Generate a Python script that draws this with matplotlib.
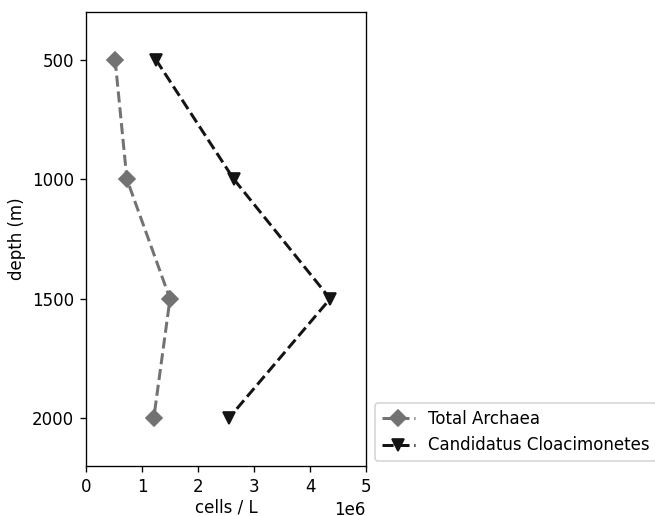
import numpy as np
import matplotlib.pyplot as plt

depth = [500, 1000, 1500, 2000]
total_archaea = [0.52e6, 0.73e6, 1.5e6, 1.21e6]
cloacimonetes = [1.25e6, 2.64e6, 4.36e6, 2.55e6]

dpi = 120
fig = plt.figure(figsize=(655 / dpi, 516 / dpi), dpi=dpi)
ax = fig.add_axes([86 / 655, 1 - 466 / 516, 280 / 655, 454 / 516])

ax.plot(total_archaea, depth, linestyle="--", marker="D", color="#727272",
        linewidth=1.8, markersize=6.5, label="Total Archaea")
ax.plot(cloacimonetes, depth, linestyle="--", marker="v", color="#141414",
        linewidth=1.8, markersize=7.5, label="Candidatus Cloacimonetes")

ax.set_xlim(0, 5e6)
ax.set_ylim(2200, 300)
ax.set_yticks([500, 1000, 1500, 2000])
ax.set_xlabel("cells / L", labelpad=2)
ax.set_ylabel("depth (m)")

ax.legend(loc="lower left", bbox_to_anchor=(1.032, 0.011), borderaxespad=0)

fig.savefig("out.png", dpi=dpi)
